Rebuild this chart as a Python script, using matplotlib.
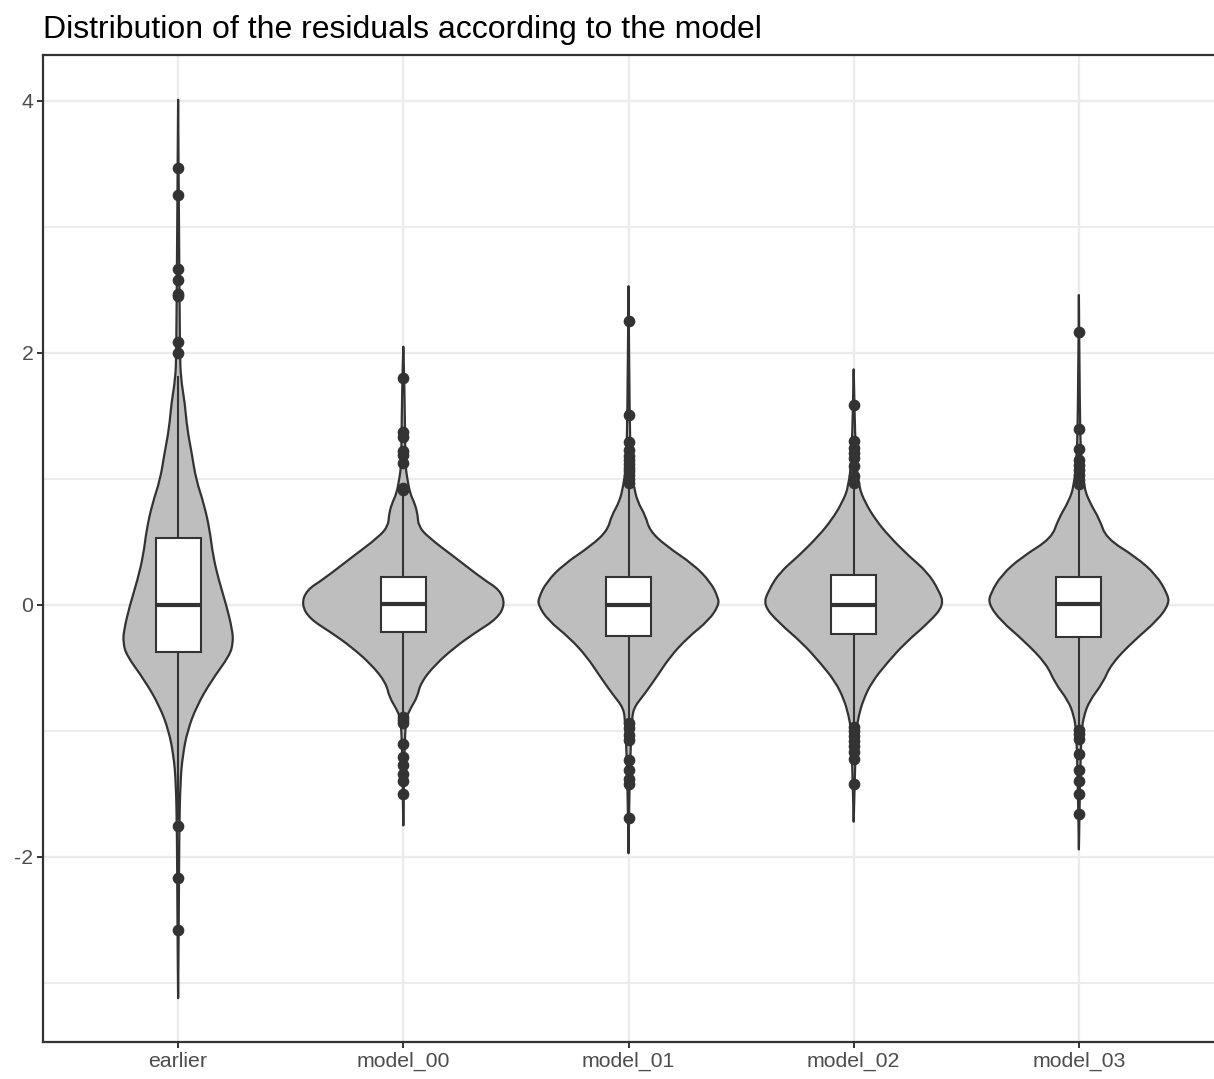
import numpy as np
import matplotlib
matplotlib.use("Agg")
import matplotlib.pyplot as plt
from matplotlib.path import Path
from matplotlib.patches import PathPatch

plt.rcParams['font.family'] = ['Liberation Sans', 'DejaVu Sans']

# groups on the x axis
categories = ["earlier", "model_00", "model_01", "model_02", "model_03"]

# violin outlines: residual value and half width
violin_y = {
    "earlier": [-3.12, -2.5, -1.8, -1.4, -1.2, -1.0, -0.8, -0.6, -0.4, -0.3, -0.2, 0.0,
                0.2, 0.4, 0.6, 0.8, 1.0, 1.2, 1.4, 1.6, 1.8, 2.0, 3.0, 4.01],
    "model_00": [-1.75, -1.3, -1.1, -0.9, -0.817, -0.731, -0.618, -0.476, -0.335, -0.221,
                 -0.108, 0.006, 0.119, 0.204, 0.374, 0.544, 0.63, 0.714, 0.80, 0.885,
                 1.0, 1.1, 1.31, 1.73, 2.05],
    "model_01": [-1.97, -1.5, -1.2, -0.94, -0.82, -0.71, -0.56, -0.41, -0.26, -0.12, 0.0,
                 0.06, 0.18, 0.32, 0.47, 0.59, 0.71, 0.82, 0.94, 1.1, 1.5, 2.53],
    "model_02": [-1.72, -1.3, -0.99, -0.88, -0.75, -0.61, -0.46, -0.30, -0.14, 0.0, 0.12,
                 0.26, 0.39, 0.55, 0.68, 0.81, 0.94, 1.2, 1.87],
    "model_03": [-1.94, -1.3, -1.0, -0.88, -0.76, -0.62, -0.47, -0.29, -0.12, 0.01, 0.09,
                 0.24, 0.38, 0.53, 0.68, 0.82, 0.94, 1.2, 1.6, 2.46],
}
violin_hw = {
    "earlier": [0.0, 0.003, 0.005, 0.01, 0.02, 0.041, 0.083, 0.148, 0.229, 0.244, 0.241,
                0.214, 0.18, 0.154, 0.14, 0.115, 0.079, 0.061, 0.04, 0.03, 0.012, 0.008,
                0.004, 0.0],
    "model_00": [0.0, 0.004, 0.006, 0.012, 0.033, 0.062, 0.077, 0.14, 0.229, 0.318, 0.417,
                 0.452, 0.429, 0.355, 0.232, 0.106, 0.067, 0.064, 0.052, 0.03, 0.018,
                 0.01, 0.008, 0.005, 0.0],
    "model_01": [0.0, 0.004, 0.008, 0.015, 0.021, 0.07, 0.129, 0.185, 0.262, 0.358, 0.401,
                 0.398, 0.365, 0.29, 0.166, 0.094, 0.075, 0.04, 0.024, 0.01, 0.005, 0.0],
    "model_02": [0.0, 0.006, 0.012, 0.022, 0.043, 0.081, 0.148, 0.229, 0.333, 0.402, 0.377,
                 0.328, 0.244, 0.155, 0.096, 0.052, 0.022, 0.008, 0.0],
    "model_03": [0.0, 0.006, 0.012, 0.022, 0.047, 0.106, 0.143, 0.24, 0.35, 0.401, 0.393,
                 0.343, 0.254, 0.121, 0.092, 0.046, 0.022, 0.008, 0.004, 0.0],
}

# boxplot stats: lower whisker, q1, median, q3, upper whisker
whisker_lo = [-1.70, -0.86, -0.93, -0.93, -0.96]
q1 = [-0.37, -0.213, -0.244, -0.233, -0.256]
median = [0.0, 0.01, 0.0, 0.0, 0.006]
q3 = [0.535, 0.224, 0.226, 0.238, 0.226]
whisker_hi = [1.81, 0.86, 0.95, 0.94, 0.95]

outliers = {
    "earlier": [3.47, 3.25, 2.67, 2.58, 2.47, 2.45, 2.09, 2.0, -1.75, -2.17, -2.58],
    "model_00": [1.80, 1.37, 1.33, 1.22, 1.19, 1.13, 0.93, 0.91, -0.89, -0.91, -0.94,
                 -1.10, -1.21, -1.27, -1.34, -1.40, -1.50],
    "model_01": [2.25, 1.51, 1.29, 1.23, 1.18, 1.15, 1.12, 1.09, 1.06, 1.03, 1.0, 0.97,
                 -0.94, -0.98, -1.03, -1.07, -1.23, -1.31, -1.38, -1.42, -1.69],
    "model_02": [1.59, 1.30, 1.25, 1.21, 1.17, 1.10, 1.02, 0.97, -0.97, -1.0, -1.04,
                 -1.08, -1.12, -1.17, -1.22, -1.42],
    "model_03": [2.17, 1.40, 1.24, 1.15, 1.11, 1.07, 1.03, 0.99, 0.96, -0.99, -1.02,
                 -1.06, -1.18, -1.31, -1.40, -1.50, -1.66],
}

dark = "#333333"


def side_curve(pts, first):
    # quadratic bezier through midpoints, anchored at both tips
    verts = [pts[0]]
    codes = [Path.MOVETO if first else Path.LINETO]
    verts.append(((pts[0][0] + pts[1][0]) / 2, (pts[0][1] + pts[1][1]) / 2))
    codes.append(Path.LINETO)
    for i in range(1, len(pts) - 1):
        mid = ((pts[i][0] + pts[i + 1][0]) / 2, (pts[i][1] + pts[i + 1][1]) / 2)
        verts += [pts[i], mid]
        codes += [Path.CURVE3, Path.CURVE3]
    verts.append(pts[-1])
    codes.append(Path.LINETO)
    return verts, codes


fig = plt.figure(figsize=(12.14, 10.79), dpi=100)
ax = fig.add_axes([43 / 1214, 37 / 1079, 1 - 43 / 1214, (1042 - 55) / 1079])

for i, cat in enumerate(categories):
    x = i + 1
    ys = violin_y[cat]
    hw = violin_hw[cat]
    right = [(x + w, y) for y, w in zip(ys, hw)]
    left = [(x - w, y) for y, w in zip(ys[::-1], hw[::-1])]
    v1, c1 = side_curve(right, True)
    v2, c2 = side_curve(left, False)
    verts = v1 + v2 + [right[0]]
    codes = c1 + c2 + [Path.CLOSEPOLY]
    patch = PathPatch(Path(verts, codes), facecolor="#BEBEBE", edgecolor=dark,
                      lw=1.6, joinstyle="round", zorder=3)
    ax.add_patch(patch)

    # whiskers
    ax.plot([x, x], [whisker_lo[i], q1[i]], color=dark, lw=1.5, zorder=4)
    ax.plot([x, x], [q3[i], whisker_hi[i]], color=dark, lw=1.5, zorder=4)
    # box
    ax.add_patch(plt.Rectangle((x - 0.1, q1[i]), 0.2, q3[i] - q1[i], facecolor="white",
                               edgecolor=dark, lw=1.5, zorder=5))
    ax.plot([x - 0.1, x + 0.1], [median[i], median[i]], color=dark, lw=3.0,
            solid_capstyle="butt", zorder=6)
    # outliers
    ax.plot([x] * len(outliers[cat]), outliers[cat], "o", color=dark, ms=7.4, zorder=7)

ax.set_xlim(0.4, 5.6)
ax.set_ylim((605 - 1042) / 126, (605 - 55) / 126)
ax.set_xticks(range(1, len(categories) + 1))
ax.set_xticklabels(categories)
ax.set_yticks([-2, 0, 2, 4])
ax.set_yticklabels(["-2", "0", "2", "4"])
ax.set_yticks([-3, -1, 1, 3], minor=True)

ax.grid(True, which="major", color="#EBEBEB", lw=1.7, zorder=0)
ax.grid(True, which="minor", axis="y", color="#EBEBEB", lw=1.3, zorder=0)
ax.set_axisbelow(True)
ax.tick_params(which="major", length=4, width=1.4, color=dark, labelcolor="#4D4D4D",
               labelsize=15.3, pad=3)
ax.tick_params(which="minor", length=0)

for side in ["left", "bottom", "top"]:
    ax.spines[side].set_color(dark)
    ax.spines[side].set_linewidth(1.6)
ax.spines["right"].set_visible(False)

fig.text(43 / 1214, 1 - 30 / 1079, "Distribution of the residuals according to the model",
         fontsize=23, color="black", ha="left", va="center")

fig.savefig("out.png", dpi=100)
